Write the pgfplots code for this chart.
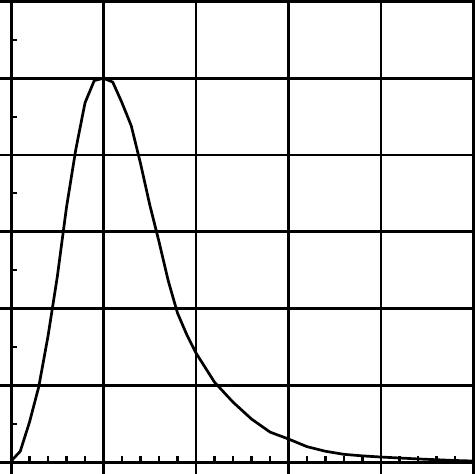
\documentclass[border=0pt]{standalone}
\usepackage{pgfplots}
\pgfplotsset{compat=1.18}

\begin{document}
\begin{tikzpicture}
\begin{axis}[
    scale only axis,
    width=237pt, height=237pt,
    xmin=-0.119, xmax=5.005,
    ymin=-0.156, ymax=6.02,
    axis lines=middle,
    axis line style={-, black, line width=1.5pt},
    xtick={0,1,2,3,4,5}, ytick={0,1,2,3,4,5,6},
    minor x tick num=4, minor y tick num=1,
    xticklabels={}, yticklabels={},
    grid=major,
    major grid style={black, line width=1.45pt},
    tick align=inside,
    tick style={black, line width=1.1pt},
    major tick length=5pt, minor tick length=3pt,
]
\addplot[black, line width=1.35pt] coordinates {
    (0.0,0.01) (0.1,0.14) (0.2,0.52) (0.3,0.98) (0.4,1.64)
    (0.5,2.41) (0.6,3.32) (0.7,4.07) (0.8,4.68) (0.9,4.97)
    (1.0,5.00) (1.1,4.95) (1.2,4.68) (1.3,4.38) (1.4,3.89)
    (1.5,3.35) (1.6,2.87) (1.7,2.36) (1.8,1.94) (1.9,1.66)
    (2.0,1.42) (2.2,1.04) (2.4,0.78) (2.6,0.56) (2.8,0.39)
    (3.0,0.30) (3.2,0.20) (3.4,0.14) (3.6,0.10) (3.8,0.08)
    (4.0,0.065) (4.4,0.04) (4.8,0.02) (5.0,0.013)
};
\coordinate (sw) at (rel axis cs:0,0);
\coordinate (ne) at (rel axis cs:1,1);
\end{axis}
\pgfresetboundingbox
\useasboundingbox (sw) rectangle (ne);
\end{tikzpicture}
\end{document}
